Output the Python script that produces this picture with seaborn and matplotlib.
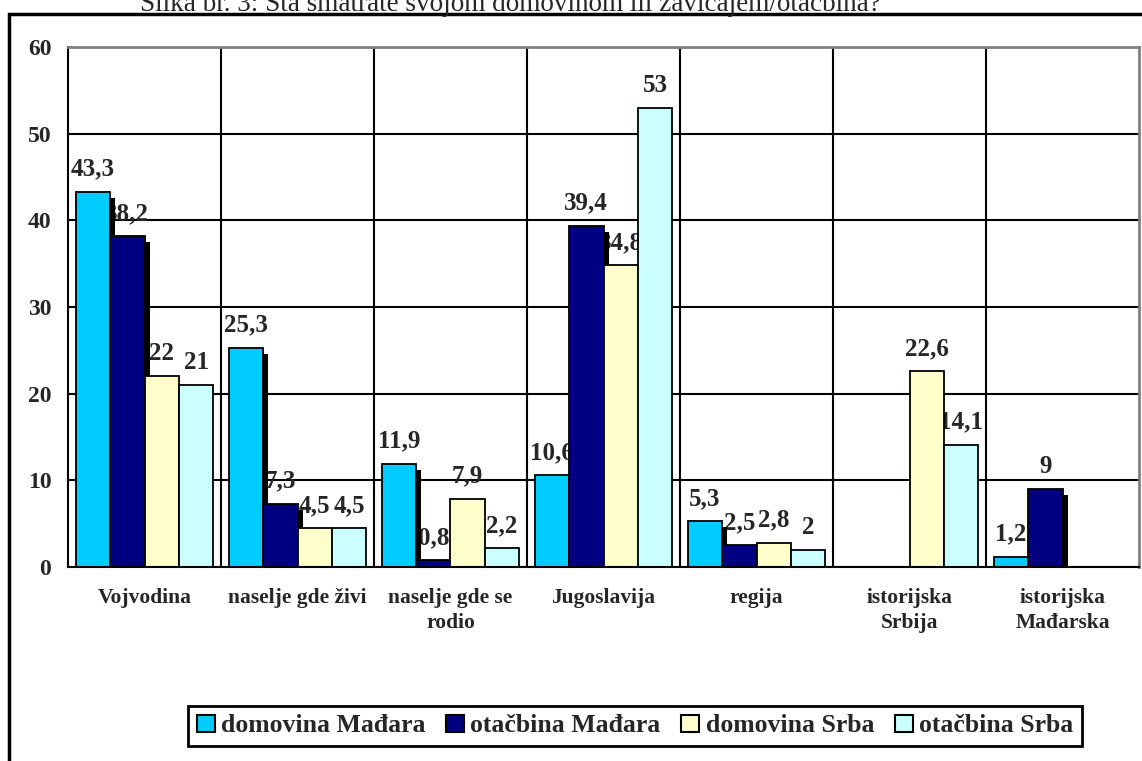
import numpy as np
import pandas as pd
import matplotlib
matplotlib.use("Agg")
import matplotlib.pyplot as plt
import matplotlib.patheffects as pe
from matplotlib.patches import Patch, Rectangle
import seaborn as sns

kategorije = ['Vojvodina', 'naselje gde živi', 'naselje gde se\nrodio', 'Jugoslavija',
              'regija', 'istorijska\nSrbija', 'istorijska\nMađarska']
serije = ['domovina Mađara', 'otačbina Mađara', 'domovina Srba', 'otačbina Srba']
domovina_madjara = [43.3, 25.3, 11.9, 10.6, 5.3, np.nan, 1.2]
otacbina_madjara = [38.2, 7.3, 0.8, 39.4, 2.5, np.nan, 9]
domovina_srba = [22, 4.5, 7.9, 34.8, 2.8, 22.6, np.nan]
otacbina_srba = [21, 4.5, 2.2, 53, 2, 14.1, np.nan]
boje = ['#00CCFF', '#000080', '#FFFFCC', '#CCFFFF']
naslov = "Slika br. 3: Šta smatrate svojom domovinom ili zavičajem/otačbina?"

df = pd.DataFrame({
    'kategorija': kategorije * 4,
    'serija': np.repeat(serije, len(kategorije)),
    'procenat': domovina_madjara + otacbina_madjara + domovina_srba + otacbina_srba,
})

sns.set_style("white")
plt.rcParams['font.family'] = ['Liberation Serif', 'DejaVu Serif']
plt.rcParams['font.weight'] = 'bold'

fig = plt.figure(figsize=(11.42, 7.61), dpi=100)
ax = fig.add_axes([68 / 1142, 1 - 567 / 761, (1139 - 68) / 1142, (567 - 47) / 761])

sns.barplot(data=df, x='kategorija', y='procenat', hue='serija', order=kategorije,
            hue_order=serije, palette=boje, saturation=1, width=0.9,
            edgecolor='black', linewidth=1.3, errorbar=None, legend=False, ax=ax)

# labels sit behind the bars, like in the original
for i, c in enumerate(ax.containers):
    labels = ['' if np.isnan(v) else ('%g' % v).replace('.', ',') for v in c.datavalues]
    ax.bar_label(c, labels=labels, padding=8, fontsize=18, fontweight='bold', zorder=0.9)
    if i < 2:
        for p in c:
            p.set_path_effects([pe.SimplePatchShadow(offset=(3.6, -4.3), shadow_rgbFace='black', alpha=1),
                                pe.Normal()])

ax.set_xlim(-0.5, len(kategorije) - 0.5)
ax.set_ylim(0, 60)
ax.set_yticks(range(0, 61, 10))
ax.set_xlabel('')
ax.set_ylabel('')

ax.set_axisbelow(True)
ax.yaxis.grid(True, color='black', lw=1.5)
for b in np.arange(0.5, len(kategorije) - 1, 1):
    ax.axvline(b, color='black', lw=1.5, zorder=0.5)

ax.set_xticks(np.arange(-0.5, len(kategorije), 1), minor=True)
ax.tick_params(axis='x', which='major', length=0, pad=15, labelsize=15.5)
ax.tick_params(axis='x', which='minor', length=6, width=1.5, direction='out', color='black')
ax.tick_params(axis='y', length=6, width=1.5, pad=6, direction='out', labelsize=17, color='black')
for t in ax.get_xticklabels():
    t.set_linespacing(1.35)
    t.set_fontweight('bold')
for t in ax.get_yticklabels():
    t.set_fontweight('bold')

for s in ['left', 'bottom']:
    ax.spines[s].set_color('black')
    ax.spines[s].set_linewidth(1.5)
for s in ['top', 'right']:
    ax.spines[s].set_color('#808080')
    ax.spines[s].set_linewidth(2)

handles = [Patch(facecolor=b, edgecolor='black', lw=1.5, label=s) for b, s in zip(boje, serije)]
leg = fig.legend(handles=handles, loc='center', bbox_to_anchor=(635 / 1142, 1 - 726 / 761),
                 ncol=4, fontsize=18.5, frameon=True, fancybox=False, framealpha=1,
                 edgecolor='black', handlelength=0.7, handleheight=0.66, handletextpad=0.25,
                 columnspacing=0.8, borderpad=0.35, borderaxespad=0)
leg.get_frame().set_linewidth(2)
for t in leg.get_texts():
    t.set_fontweight('bold')

# outer chart frame, only top and left edges fall inside the picture
fig.add_artist(Rectangle((9 / 1142, -0.1), 1.2, 1 - 14 / 761 + 0.1, transform=fig.transFigure,
                         fill=False, ec='black', lw=2.5, clip_on=False))
# the title is cut at the top edge in the reference as well
fig.text(510 / 1142, 1 - 11 / 761, naslov, ha='center', va='baseline', fontsize=19.5,
         fontweight='normal')

fig.savefig("out.png", dpi=100)
plt.close(fig)
